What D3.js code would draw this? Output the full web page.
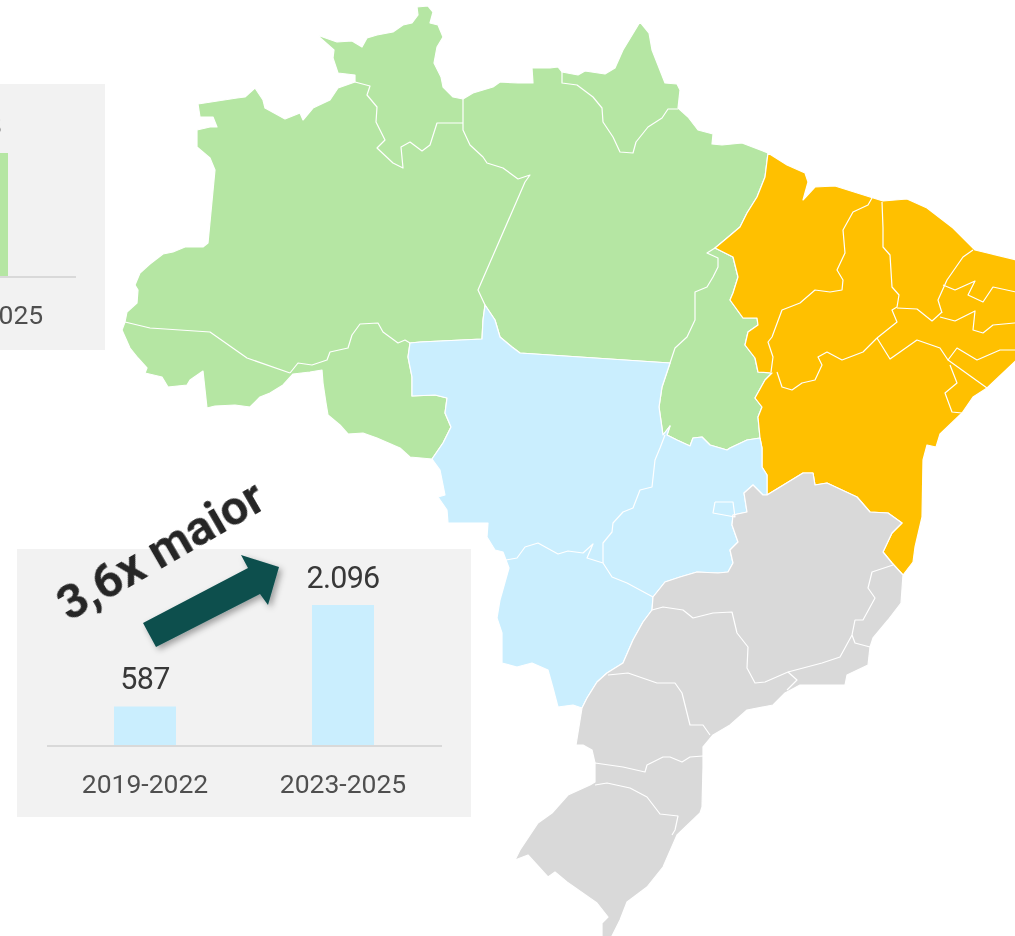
<!DOCTYPE html>
<html><head><meta charset="utf-8">
<script src="https://cdn.jsdelivr.net/npm/d3@7"></script>
<style>html,body{margin:0;padding:0;background:#fff;overflow:hidden}svg{display:block}text{font-family:Roboto,sans-serif}</style>
</head><body><svg id="c" width="1015" height="936"></svg>
<script>
// ---------- Data: chart values ----------
const categories = ["2019-2022","2023-2025"];
const centerWestValues = [587,2096];
const centerWestLabels = ["587","2.096"];
const northVisibleCategory = ["2023-2025"];
const northVisibleValues = [283];
const northVisibleLabels = ["283"];
const calloutText = "3,6x maior";
// ---------- Data: map outlines, traced in picture units ----------
const northCoast = [[125,322],[127,312],[137,303],[138,290],[135,285],[140,273],[150,264],[163,254],[173,252],[185,247],[203,247],[208,243],[215,170],[210,158],[197,147],[197,130],[210,127],[217,127],[213,117],[200,117],[198,104],[237,98],[245,97],[255,88],[263,100],[265,108],[285,119],[300,113],[303,120],[313,108],[330,100],[338,88],[355,82],[355,75],[338,73],[333,58],[334,50],[317,35],[337,42],[352,41],[362,47],[367,38],[377,35],[393,32],[403,25],[412,23],[418,15],[417,7],[428,6],[433,12],[430,23],[438,25],[443,37],[437,47],[434,63],[441,77],[443,87],[453,97],[463,99],[473,93],[493,87],[500,82],[518,83],[533,83],[532,68],[550,68],[558,67],[562,72],[578,75],[585,71],[605,74],[615,68],[623,50],[640,22],[649,33],[652,50],[665,83],[677,84],[680,90],[678,108],[688,117],[698,130],[713,134],[712,144],[722,145],[742,143],[768,153]];
const northNortheast = [[768,153],[765,177],[757,197],[747,213],[740,227],[727,238],[715,248],[733,257],[738,277],[733,293],[730,300],[743,318],[757,318],[758,325],[748,332],[745,345],[755,358],[758,372],[772,373],[765,380],[755,398],[762,407],[758,417],[760,438]];
const northCenterWest = [[760,438],[747,440],[730,448],[727,450],[710,445],[702,437],[693,438],[690,446],[677,440],[667,435],[670,426],[663,435],[659,407],[662,387],[670,363],[520,353],[512,347],[500,337],[495,320],[485,305],[483,320],[482,339],[420,342],[410,343],[408,357],[412,377],[412,396],[435,395],[447,398],[445,413],[451,427],[443,443],[432,459]];
const northSouthCoast = [[432,459],[410,457],[400,448],[377,438],[363,433],[348,434],[340,425],[328,415],[326,403],[323,383],[322,370],[310,372],[293,374],[283,385],[270,393],[260,397],[250,407],[235,405],[215,406],[207,408],[203,371],[190,380],[187,385],[168,387],[162,377],[145,373],[147,368],[138,358],[130,348],[122,330],[125,322]];
const northeastCoast = [[768,153],[787,165],[805,173],[808,182],[803,200],[815,187],[835,186],[870,197],[883,201],[907,199],[927,208],[953,228],[975,250],[1025,262],[1025,352],[987,388],[973,397],[962,413],[940,434],[936,447],[927,445],[923,460],[922,517],[915,547],[913,562],[903,575]];
const northeastSoutheast = [[903,575],[892,563],[883,552],[892,533],[902,523],[888,513],[870,512],[857,497],[827,483],[815,485],[813,473],[803,473],[767,495]];
const northeastCenterWest = [[767,495],[767,475],[762,467],[762,448],[760,438]];
const centerWestSouthwest = [[432,459],[440,470],[445,495],[438,497],[447,510],[448,523],[488,523],[487,537],[495,550],[503,552],[509,568],[500,600],[497,618],[502,633],[502,663],[517,667],[532,663],[548,670],[553,688],[558,707],[573,705],[582,708]];
const centerWestSoutheast = [[582,708],[587,698],[597,682],[607,673],[623,663],[633,640],[643,622],[652,610],[653,597],[665,582],[680,577],[697,572],[718,573],[728,572],[733,563],[730,550],[738,542],[732,525],[733,515],[747,512],[744,493],[753,485],[763,495],[767,495]];
const southCoast = [[903,575],[901,603],[888,620],[873,638],[870,647],[868,665],[847,675],[845,685],[823,685],[800,685],[785,693],[773,705],[747,710],[730,725],[713,735],[703,747],[703,767],[702,807],[700,813],[677,835],[663,867],[647,887],[627,902],[620,920],[610,940],[602,940],[602,923],[608,917],[597,903],[567,882],[555,872],[548,877],[528,855],[515,860],[520,850],[538,823],[552,813],[568,795],[590,785],[595,782],[595,763],[592,750],[583,745],[576,745],[582,708]];
const stateBorders = [
 [[355,82],[370,86],[367,95],[377,107],[376,122],[385,140],[377,148],[393,163],[403,168],[401,147],[410,142],[422,151],[430,145],[437,123],[463,123]],
 [[463,99],[463,130],[470,145],[483,157],[487,163],[503,168],[518,179],[530,175],[525,182],[478,290],[485,305]],
 [[562,72],[562,83],[577,85],[593,97],[602,108],[603,122],[613,137],[620,152],[633,153],[636,142],[648,127],[662,118],[668,109],[678,109]],
 [[715,248],[707,253],[718,258],[718,267],[713,277],[707,287],[695,292],[695,320],[687,337],[675,348],[670,363]],
 [[125,322],[150,328],[210,332],[247,358],[290,373]],
 [[290,373],[298,363],[312,365],[327,360],[330,352],[348,348],[352,335],[360,324],[378,323],[383,332],[398,343],[405,340],[410,343]],
 [[665,435],[660,448],[655,460],[652,487],[640,490],[633,508],[623,512],[613,523],[612,532],[603,543],[603,563]],
 [[506,560],[517,558],[525,547],[538,543],[558,554],[568,551],[583,553],[593,544],[587,558],[603,563],[612,577],[627,583],[653,597]],
 [[715,502],[733,502],[735,517],[713,513],[715,502]],
 [[872,198],[868,205],[853,212],[843,230],[845,253],[837,270],[843,280],[842,290],[830,292],[815,290],[800,303],[782,310],[772,337],[768,342],[773,357],[771,372]],
 [[777,372],[782,387],[792,390],[802,383],[815,380],[822,365],[818,357],[827,352],[842,360],[863,352],[877,338]],
 [[882,202],[883,228],[883,247],[890,255],[892,287],[899,295],[897,307],[892,310],[897,322],[877,338]],
 [[897,308],[917,309],[932,321],[942,312]],
 [[973,250],[963,257],[947,280],[938,300],[942,313]],
 [[943,285],[955,290],[975,281],[968,295],[983,302],[993,287],[1025,294]],
 [[940,317],[955,321],[975,311],[973,330],[983,333],[993,325],[1025,322]],
 [[877,338],[890,359],[900,352],[917,340],[940,348],[948,360],[957,348],[977,360],[1000,350],[1025,350]],
 [[948,360],[987,388]],
 [[950,365],[957,383],[945,393],[952,412],[962,413]],
 [[652,610],[663,607],[683,610],[693,618],[713,613],[732,612],[737,633],[748,647],[747,668],[755,683],[765,682],[788,672],[822,663],[840,657],[852,635],[855,620],[863,620],[875,598],[868,588],[872,572],[893,565]],
 [[852,635],[855,643],[870,647]],
 [[788,672],[797,680],[787,690]],
 [[608,675],[628,673],[657,683],[675,683],[682,693],[688,717],[690,725],[703,725],[710,735]],
 [[703,756],[690,757],[682,762],[670,757],[663,757],[647,765],[645,772],[623,767],[595,763]],
 [[595,785],[607,783],[630,788],[647,797],[660,814],[678,816],[675,830],[672,835]]
];
const rev = a => a.slice().reverse();
const regions = [
 {name:"Norte", fill:"#B5E6A3", ring:[...northCoast,...northNortheast,...northCenterWest,...northSouthCoast]},
 {name:"Nordeste", fill:"#FFC000", ring:[...northeastCoast,...northeastSoutheast,...northeastCenterWest,...rev(northNortheast)]},
 {name:"Centro-Oeste", fill:"#CAEEFE", ring:[...rev(northCenterWest),...rev(northeastCenterWest),...rev(centerWestSoutheast),...rev(centerWestSouthwest)]},
 {name:"Sudeste e Sul", fill:"#D9D9D9", ring:[...rev(northeastSoutheast),...southCoast,...centerWestSoutheast]}
];
// Callout arrow outline in picture units
const arrowShape = [[143,623],[248,568],[241,555],[279,567],[268,605],[260,594],[156,647]];

// ---------- Drawing ----------
const svg = d3.select("#c");
const defs = svg.append("defs");
defs.append("filter").attr("id","soft").attr("x","-2%").attr("y","-2%").attr("width","104%").attr("height","104%")
  .append("feGaussianBlur").attr("stdDeviation",0.5);
defs.append("filter").attr("id","softText").attr("filterUnits","userSpaceOnUse").attr("x",-400).attr("y",-100).attr("width",1500).attr("height",1100)
  .append("feGaussianBlur").attr("stdDeviation",0.3);
const sh = defs.append("filter").attr("id","shadow").attr("x","-20%").attr("y","-20%").attr("width","150%").attr("height","150%");
sh.append("feDropShadow").attr("dx",3).attr("dy",3).attr("stdDeviation",3).attr("flood-color","#000").attr("flood-opacity",0.35);

const mapPath = d3.geoPath(d3.geoIdentity());
const mapG = svg.append("g").attr("filter","url(#soft)");
mapG.selectAll("path.region").data(regions).join("path").attr("class","region")
  .attr("d",d=>mapPath({type:"Polygon",coordinates:[[...d.ring,d.ring[0]]]}))
  .attr("fill",d=>d.fill).attr("stroke","#fff").attr("stroke-width",1.2).attr("stroke-linejoin","round");
mapG.selectAll("path.state").data(stateBorders).join("path").attr("class","state")
  .attr("d",d=>mapPath({type:"LineString",coordinates:d}))
  .attr("fill","none").attr("stroke","#fff").attr("stroke-width",1.2).attr("stroke-linejoin","round");

function inset(o){
  svg.append("rect").attr("x",o.panel[0]).attr("y",o.panel[1]).attr("width",o.panel[2]).attr("height",o.panel[3]).attr("fill","#F2F2F2");
  const g = svg.append("g").attr("transform",`translate(${o.dx},${o.dy})`);
  const x = d3.scaleBand().domain(categories).range([46,442]).paddingInner(0.687).paddingOuter(0.3435);
  const y = d3.scaleLinear().domain([0,o.max]).range([746,o.top]);
  g.selectAll("rect.bar").data(o.values).join("rect").attr("class","bar")
    .attr("x",(d,i)=>x(o.cats[i])).attr("width",x.bandwidth())
    .attr("y",d=>y(d)).attr("height",d=>y(0)-y(d)).attr("fill",o.fill);
  g.selectAll("text.val").data(o.labels).join("text").attr("class","val")
    .attr("x",(d,i)=>x(o.cats[i])+x.bandwidth()/2).attr("y",(d,i)=>y(o.values[i])-17.5)
    .attr("text-anchor","middle").attr("font-size",30.5).attr("font-weight",400).attr("letter-spacing",-0.7).attr("fill","#383838")
    .attr("filter","url(#softText)").text(d=>d);
  const ax = g.append("g").attr("transform","translate(0,746)")
    .call(d3.axisBottom(x).tickSize(0).tickPadding(28).tickValues(o.cats));
  ax.select(".domain").attr("stroke","#D9D9D9").attr("stroke-width",2).attr("d","M47,0H442");
  ax.selectAll("text").attr("font-size",26.5).attr("fill","#505050").attr("dx",o.labelDx)
    .attr("filter","url(#softText)").style("font-family","Roboto,sans-serif");
}
inset({panel:[17,549,454,268],dx:0,dy:0,labelDx:0,cats:categories,values:centerWestValues,labels:centerWestLabels,max:2096,top:605,fill:"#CAEEFE"});
inset({panel:[-349,84,454,266],dx:-366,dy:-469,labelDx:3,cats:northVisibleCategory,values:northVisibleValues,labels:northVisibleLabels,max:283,top:622,fill:"#B5E6A3"});

svg.append("path").attr("d",d3.line()(arrowShape)+"Z").attr("fill","#0B4F4E").attr("filter","url(#shadow)");
svg.append("text").attr("transform","translate(69,622) rotate(-30)")
  .attr("font-size",48.5).attr("font-weight",700).attr("fill","#262626").attr("filter","url(#softText)").text(calloutText);
</script></body></html>
